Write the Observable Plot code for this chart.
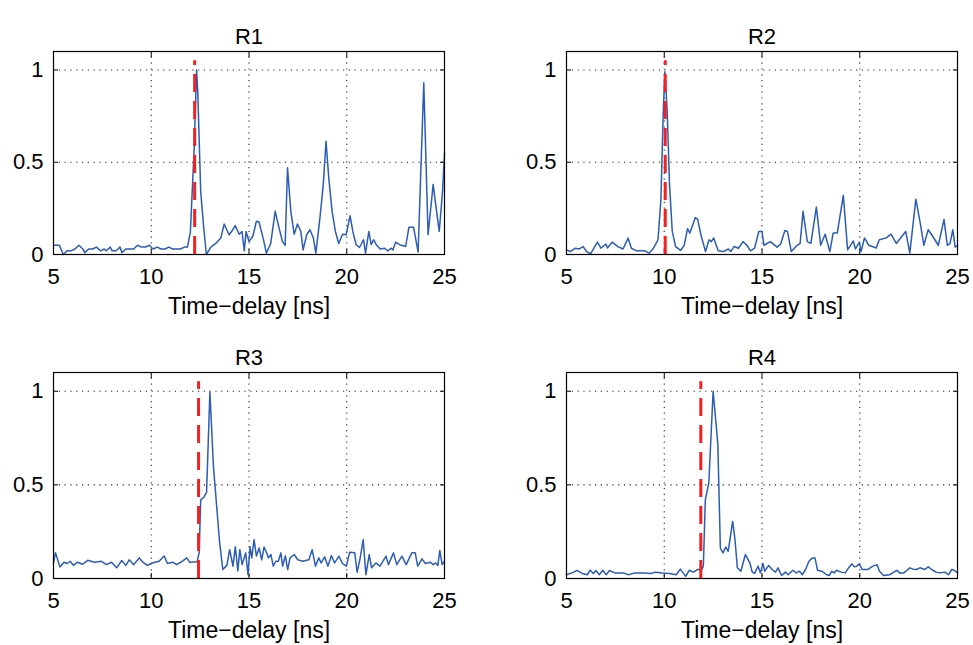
<!DOCTYPE html>
<html><head><meta charset="utf-8">
<script src="https://cdn.jsdelivr.net/npm/d3@7"></script>
<script src="https://cdn.jsdelivr.net/npm/@observablehq/plot@0.6"></script>
<style>
body{margin:0;background:#fff;width:973px;height:645px;overflow:hidden;position:relative;font-family:"Liberation Sans",Arial,sans-serif;}
.panel{position:absolute;width:473px;}
.panel svg{max-width:none !important;}
</style></head><body>
<div id="p1" class="panel" style="left:0;top:0"></div>
<div id="p2" class="panel" style="left:513px;top:0"></div>
<div id="p3" class="panel" style="left:0;top:321px"></div>
<div id="p4" class="panel" style="left:513px;top:321px"></div>
<script>
const xTicks = [5, 10, 15, 20, 25];
const yTicks = [0, 0.5, 1];
const titles = ["R1", "R2", "R3", "R4"];
const xLabel = "Time\u2212delay [ns]";
const markers = [12.22, 10.05, 12.42, 11.87];

const r1X = [5.0,5.3,5.5,5.7,5.9,6.1,6.3,6.5,6.6,6.8,
7.0,7.2,7.4,7.6,7.7,7.9,8.0,8.2,8.4,8.5,
8.7,8.9,9.1,9.3,9.5,9.7,9.9,10.1,10.3,10.5,
10.7,10.9,11.1,11.3,11.5,11.7,11.85,12.0,12.19,12.32,
12.38,12.53,12.68,12.82,13.05,13.3,13.56,13.73,13.98,14.15,
14.29,14.5,14.64,14.76,14.85,15.0,15.2,15.38,15.51,15.72,
15.89,16.11,16.34,16.54,16.71,16.85,16.97,17.14,17.31,17.48,
17.65,17.77,17.95,18.12,18.29,18.42,18.63,18.8,18.94,19.08,
19.25,19.42,19.59,19.79,19.97,20.17,20.31,20.48,20.65,20.86,
20.96,21.13,21.25,21.37,21.51,21.71,21.93,22.1,22.28,22.36,
22.5,22.71,23.01,23.18,23.42,23.65,23.94,24.16,24.42,24.55,
24.73,24.9,25.0];
const r1Y = [0.05,0.05,0.0,0.02,0.02,0.03,0.05,0.03,0.01,0.03,
0.03,0.04,0.02,0.03,0.02,0.04,0.02,0.02,0.04,0.01,
0.03,0.03,0.03,0.05,0.04,0.04,0.05,0.03,0.04,0.03,
0.03,0.04,0.03,0.03,0.03,0.04,0.04,0.12,0.56,1.0,
0.88,0.34,0.15,0.0,0.04,0.06,0.09,0.165,0.107,0.13,
0.157,0.11,0.125,0.02,0.125,0.07,0.1,0.18,0.176,0.09,
0.007,0.06,0.234,0.143,0.07,0.05,0.47,0.234,0.11,0.165,
0.125,0.025,0.107,0.134,0.09,0.007,0.2,0.38,0.614,0.415,
0.234,0.125,0.06,0.11,0.107,0.21,0.125,0.053,0.038,0.08,
0.007,0.125,0.053,0.08,0.053,0.03,0.034,0.02,0.034,0.025,
0.067,0.053,0.043,0.147,0.147,0.013,0.93,0.107,0.38,0.27,
0.125,0.34,0.55];

const r2X = [5.0,5.2,5.45,5.65,5.85,6.03,6.23,6.58,6.76,7.02,
7.1,7.33,7.63,7.89,8.15,8.32,8.58,9.0,9.23,9.45,
9.68,9.83,9.94,10.03,10.15,10.27,10.41,10.58,10.84,11.02,
11.19,11.31,11.59,11.71,11.89,12.11,12.29,12.41,12.53,12.76,
13.02,13.28,13.4,13.57,13.8,14.03,14.23,14.41,14.62,14.84,
15.0,15.1,15.43,15.77,15.95,16.17,16.3,16.5,16.8,16.95,
17.1,17.32,17.5,17.78,18.0,18.23,18.47,18.64,18.85,19.16,
19.38,19.67,19.78,19.98,20.07,20.24,20.46,20.84,21.0,21.36,
21.6,21.87,22.35,22.56,22.87,23.11,23.28,23.5,23.68,24.02,
24.31,24.48,24.62,24.76,24.88,25.0];
const r2Y = [0.025,0.016,0.034,0.03,0.043,0.016,0.004,0.067,0.034,0.056,
0.035,0.067,0.043,0.03,0.089,0.034,0.02,0.02,0.007,0.034,
0.08,0.3,0.74,0.99,0.78,0.38,0.125,0.043,0.022,0.05,
0.14,0.116,0.2,0.19,0.1,0.016,0.08,0.07,0.09,0.02,
0.016,0.03,0.016,0.043,0.034,0.07,0.05,0.02,0.034,0.125,
0.125,0.05,0.07,0.04,0.056,0.13,0.125,0.016,0.05,0.06,
0.234,0.07,0.06,0.257,0.05,0.11,0.016,0.116,0.116,0.32,
0.025,0.074,0.03,0.067,0.016,0.09,0.05,0.035,0.08,0.09,
0.11,0.06,0.125,0.007,0.3,0.16,0.05,0.134,0.107,0.05,
0.19,0.05,0.06,0.134,0.04,0.05];

const r3X = [5.0,5.1,5.33,5.54,5.7,5.85,6.02,6.23,6.49,6.75,
7.1,7.45,7.71,7.97,8.23,8.49,8.7,8.87,9.1,9.39,
9.57,9.79,10.05,10.4,10.66,10.83,11.09,11.3,11.58,11.82,
11.96,12.34,12.45,12.53,12.69,12.83,13.0,13.18,13.49,13.66,
13.87,14.01,14.18,14.3,14.43,14.53,14.65,14.83,14.95,15.05,
15.14,15.26,15.38,15.52,15.65,15.77,15.9,16.0,16.12,16.24,
16.37,16.5,16.63,16.72,16.86,16.98,17.1,17.32,17.49,17.75,
18.06,18.23,18.4,18.57,18.69,18.87,19.04,19.21,19.38,19.6,
19.78,19.98,20.15,20.41,20.53,20.67,20.84,20.98,21.15,21.27,
21.49,21.7,22.01,22.13,22.39,22.56,22.82,23.04,23.33,23.5,
23.63,23.85,24.02,24.28,24.42,24.54,24.66,24.76,24.88,25.0];
const r3Y = [0.083,0.137,0.062,0.087,0.08,0.092,0.07,0.087,0.076,0.097,
0.087,0.092,0.074,0.087,0.057,0.096,0.07,0.1,0.074,0.11,
0.087,0.07,0.083,0.092,0.12,0.08,0.087,0.074,0.092,0.11,
0.087,0.089,0.137,0.42,0.434,0.46,0.996,0.6,0.2,0.048,
0.07,0.154,0.066,0.17,0.04,0.154,0.074,0.137,0.02,0.17,
0.11,0.207,0.12,0.163,0.1,0.168,0.137,0.11,0.128,0.066,
0.092,0.092,0.137,0.066,0.12,0.048,0.11,0.128,0.1,0.092,
0.1,0.154,0.066,0.11,0.083,0.115,0.066,0.122,0.083,0.119,
0.08,0.066,0.14,0.137,0.034,0.1,0.207,0.02,0.128,0.057,
0.083,0.066,0.119,0.074,0.137,0.074,0.119,0.074,0.137,0.137,
0.066,0.105,0.08,0.087,0.074,0.083,0.07,0.15,0.074,0.092];

const r4X = [5.0,5.28,5.54,5.8,6.07,6.21,6.38,6.5,6.68,6.85,
7.03,7.2,7.47,7.9,8.16,8.51,8.95,9.3,9.56,9.91,
10.26,10.61,10.82,10.96,11.1,11.28,11.49,11.7,11.92,12.0,
12.1,12.28,12.5,12.74,12.87,13.0,13.15,13.27,13.5,13.62,
13.74,13.92,14.15,14.38,14.5,14.62,14.8,14.92,15.05,15.14,
15.34,15.52,15.69,15.82,16.0,16.2,16.34,16.58,16.75,16.92,
17.06,17.23,17.4,17.58,17.71,17.84,18.06,18.3,18.44,18.57,
18.69,18.81,19.04,19.26,19.43,19.6,19.73,19.85,19.98,20.12,
20.41,20.67,20.88,21.01,21.22,21.53,21.74,21.91,22.04,22.25,
22.42,22.56,22.73,22.9,23.08,23.33,23.5,23.68,23.9,24.1,
24.36,24.54,24.71,24.83,25.0];
const r4Y = [0.02,0.03,0.043,0.027,0.02,0.044,0.027,0.043,0.02,0.044,
0.02,0.043,0.03,0.03,0.02,0.03,0.03,0.027,0.034,0.03,
0.027,0.02,0.05,0.03,0.012,0.044,0.034,0.048,0.048,0.066,
0.42,0.51,1.0,0.72,0.163,0.137,0.168,0.145,0.305,0.207,
0.057,0.039,0.128,0.083,0.034,0.027,0.066,0.03,0.08,0.039,
0.07,0.048,0.034,0.057,0.016,0.034,0.02,0.044,0.03,0.039,
0.02,0.048,0.092,0.11,0.11,0.044,0.039,0.02,0.016,0.039,
0.03,0.044,0.034,0.03,0.057,0.078,0.062,0.066,0.078,0.048,
0.048,0.066,0.074,0.039,0.016,0.02,0.034,0.044,0.03,0.03,
0.044,0.057,0.05,0.048,0.057,0.048,0.062,0.048,0.034,0.03,
0.034,0.02,0.048,0.044,0.03];

const seriesX = [r1X, r2X, r3X, r4X];
const seriesY = [r1Y, r2Y, r3Y, r4Y];
const FONT = '"Liberation Sans", Arial, Helvetica, sans-serif';

function panel(i, height, frameH) {
  const data = seriesX[i].map((x, j) => ({x, y: seriesY[i][j]}));
  return Plot.plot({
    width: 473,
    height,
    marginLeft: 53,
    marginRight: 29,
    marginTop: 51,
    marginBottom: height - 51 - frameH,
    style: {fontFamily: FONT, fontSize: "22px", color: "#000", background: "transparent", overflow: "visible"},
    x: {domain: [5, 25]},
    y: {domain: [0, 1.1]},
    marks: [
      Plot.gridX(xTicks.slice(1, -1), {stroke: "#000", strokeOpacity: 0.85, strokeWidth: 1.1, strokeDasharray: "1.2,4.6"}),
      Plot.gridY(yTicks.slice(1), {stroke: "#000", strokeOpacity: 0.85, strokeWidth: 1.1, strokeDasharray: "1.2,4.6"}),
      Plot.axisX(xTicks, {tickSize: -5, tickPadding: 19, label: null, tickFormat: d => String(d), fontSize: 22}),
      Plot.axisX(xTicks, {anchor: "top", tickSize: -5, tickPadding: 0, label: null, tickFormat: () => ""}),
      Plot.axisY(yTicks, {tickSize: -5, tickPadding: 15, label: null, tickFormat: d => String(d), fontSize: 22}),
      Plot.axisY(yTicks, {anchor: "right", tickSize: -5, tickPadding: 0, label: null, tickFormat: () => ""}),
      Plot.line(data, {x: "x", y: "y", stroke: "#2c5cb4", strokeWidth: 1.5}),
      Plot.ruleX([markers[i]], {y1: 0, y2: 1.05, stroke: "#f52020", strokeWidth: 3, strokeDasharray: "18,9"}),
      Plot.frame({stroke: "#000", strokeWidth: 1.2}),
      Plot.text([titles[i]], {frameAnchor: "top", lineAnchor: "middle", dy: -15, fontSize: 22, fill: "#000"}),
      Plot.text([xLabel], {frameAnchor: "bottom", lineAnchor: "middle", dy: 52, fontSize: 23, fill: "#000"})
    ]
  });
}

document.getElementById("p1").appendChild(panel(0, 322, 203));
document.getElementById("p2").appendChild(panel(1, 322, 203));
document.getElementById("p3").appendChild(panel(2, 324, 206));
document.getElementById("p4").appendChild(panel(3, 324, 206));
</script>
</body></html>
